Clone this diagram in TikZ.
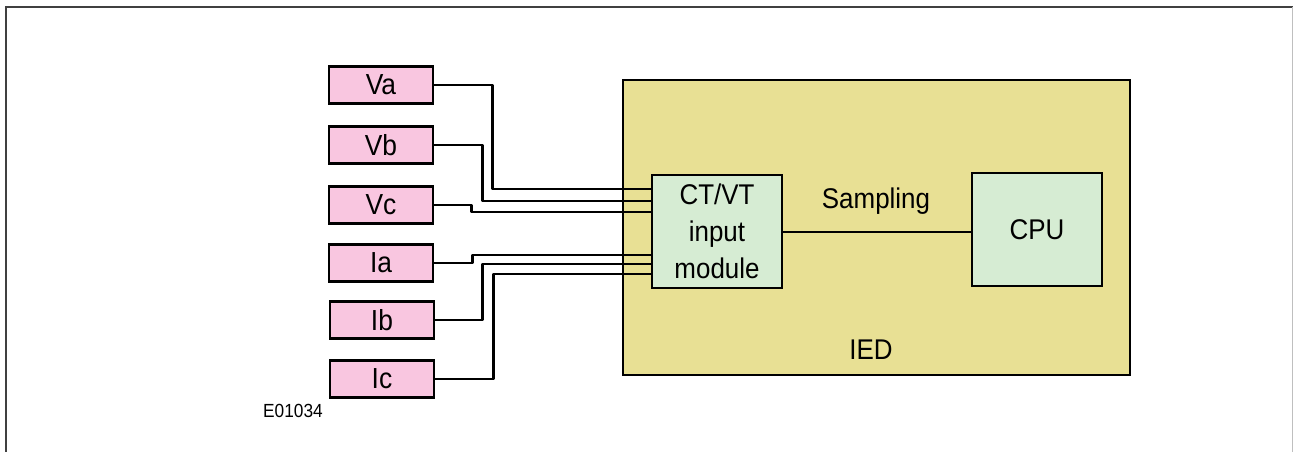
\documentclass[tikz,border=0pt]{standalone}
\usepackage{fontspec}
\setmainfont{Liberation Sans}[FakeStretch=0.91]
\usetikzlibrary{calc}

\definecolor{srcpink}{RGB}{249,198,224}
\definecolor{iedkhaki}{RGB}{232,224,148}
\definecolor{modgreen}{RGB}{214,236,211}

\tikzset{
  source/.style={draw, line width=2.5, fill=srcpink, minimum width=104, minimum height=37, inner sep=0, font=\fontsize{29}{34}\selectfont},
  module/.style={draw, line width=2.5, fill=modgreen, minimum width=130, minimum height=113, inner sep=0, align=center, font=\fontsize{28.5}{37}\selectfont},
  wire/.style={line width=2.5, line join=round},
  lbl/.style={inner sep=0, font=\fontsize{28.5}{34}\selectfont}
}

\begin{document}
\begin{tikzpicture}[x=1pt, y=-1pt]
    \useasboundingbox (0,0) rectangle (1293,452);
    \fill[white] (0,0) rectangle (1293,452);
    \draw[black!75, line width=2.5] (6,452) -- (6,7) -- (1293,7);
    \draw[black!25, line width=1] (1292,7) -- (1292,452);

    \node[draw, line width=2.5, fill=iedkhaki, minimum width=507, minimum height=295, inner sep=0] (ied) at (876.5,227.5) {};
    \node[lbl] (iedlabel) at (871,350) {IED};

    \node[module] (ctvt) at (717,231.5) {CT/VT\\input\\module};
    \node[module] (cpu) at (1037,229.5) {CPU};
    \draw[wire] (ctvt.east |- 0,232) -- (cpu.west |- 0,232);
    \node[lbl] (sampling) at (876,201) {Sampling};

    \node[source] (va) at (381,85) {Va};
    \node[source] (vb) at (381,145) {Vb};
    \node[source] (vc) at (381,205) {Vc};
    \node[source] (ia) at (381,263) {Ia};
    \node[source] (ib) at (382,320) {Ib};
    \node[source] (ic) at (382,379) {Ic};

    \coordinate (inVa) at (652,189);
    \coordinate (inVb) at (652,201);
    \coordinate (inVc) at (652,212);
    \coordinate (inIa) at (652,255);
    \coordinate (inIb) at (652,264);
    \coordinate (inIc) at (652,274);

    \draw[wire] (va.east) -- ++(58,0) |- (inVa);
    \draw[wire] (vb.east) -- ++(48,0) |- (inVb);
    \draw[wire] (vc.east) -- ++(37,0) |- (inVc);
    \draw[wire] (ia.east) -- ++(38,0) |- (inIa);
    \draw[wire] (ib.east) -- ++(47,0) |- (inIb);
    \draw[wire] (ic.east) -- ++(58,0) |- (inIc);

    \node[inner sep=0, font=\fontsize{19}{22}\selectfont] (code) at (293,411) {E01034};
\end{tikzpicture}
\end{document}
